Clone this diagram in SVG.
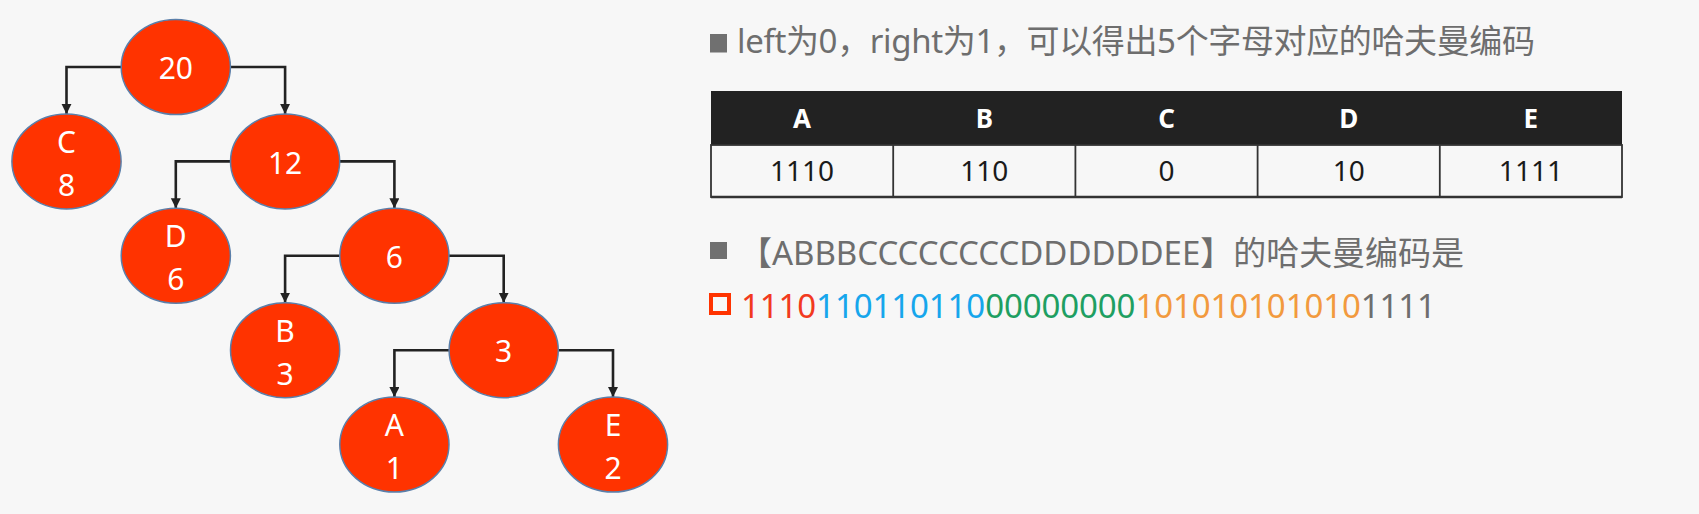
<svg xmlns="http://www.w3.org/2000/svg" width="1699" height="514" viewBox="0 0 1699 514">
<style>
.node ellipse{fill:#FF3300;stroke:#5A7FAA;stroke-width:1.5}
.node text{fill:#FFFFFF;font-family:"Noto Sans","Liberation Sans",sans-serif;font-size:30px;text-anchor:middle}
.conn path{fill:none;stroke:#222222;stroke-width:2.6;marker-end:url(#arr)}
.t{font-family:"Noto Sans","Noto Sans CJK SC",sans-serif;font-size:33px;fill:#6E6E6E}
.th{font-family:"Noto Sans","Liberation Sans",sans-serif;font-size:26px;font-weight:bold;fill:#FFFFFF;text-anchor:middle}
.td{font-family:"Noto Sans","Liberation Sans",sans-serif;font-size:28px;fill:#1A1A1A;text-anchor:middle}
.grid{stroke:#333333;stroke-width:1.8;fill:none}
</style>
<defs>
<marker id="arr" markerUnits="userSpaceOnUse" markerWidth="11" markerHeight="11" refX="10" refY="5" orient="auto">
<path d="M0,0 L10,5 L0,10 Z" fill="#222222"/>
</marker>
</defs>
<rect x="0" y="0" width="1699" height="514" fill="#F7F7F7"/>

<g id="connectors" class="conn">
<path d="M121.2,67 H66.5 V113.9"/>
<path d="M230.4,67 H285.1 V113.9"/>
<path d="M230.5,161.4 H175.8 V208.3"/>
<path d="M339.7,161.4 H394.4 V208.3"/>
<path d="M339.8,255.8 H285.1 V302.7"/>
<path d="M449,255.8 H503.7 V302.7"/>
<path d="M449.1,350.2 H394.4 V397.1"/>
<path d="M558.3,350.2 H613 V397.1"/>
</g>

<g id="n20" class="node"><ellipse cx="175.8" cy="67" rx="54.6" ry="47.5"/><text x="175.8" y="79">20</text></g>
<g id="nC" class="node"><ellipse cx="66.5" cy="161.4" rx="54.6" ry="47.5"/><text x="66.5" y="153">C</text><text x="66.5" y="196">8</text></g>
<g id="n12" class="node"><ellipse cx="285.1" cy="161.4" rx="54.6" ry="47.5"/><text x="285.1" y="174">12</text></g>
<g id="nD" class="node"><ellipse cx="175.8" cy="255.8" rx="54.6" ry="47.5"/><text x="175.8" y="247">D</text><text x="175.8" y="290">6</text></g>
<g id="n6" class="node"><ellipse cx="394.4" cy="255.8" rx="54.6" ry="47.5"/><text x="394.4" y="268">6</text></g>
<g id="nB" class="node"><ellipse cx="285.1" cy="350.2" rx="54.6" ry="47.5"/><text x="285.1" y="342">B</text><text x="285.1" y="385">3</text></g>
<g id="n3" class="node"><ellipse cx="503.7" cy="350.2" rx="54.6" ry="47.5"/><text x="503.7" y="362">3</text></g>
<g id="nA" class="node"><ellipse cx="394.4" cy="444.6" rx="54.6" ry="47.5"/><text x="394.4" y="436">A</text><text x="394.4" y="479">1</text></g>
<g id="nE" class="node"><ellipse cx="613" cy="444.6" rx="54.6" ry="47.5"/><text x="613" y="436">E</text><text x="613" y="479">2</text></g>

<g id="title">
<rect x="710" y="34" width="17" height="18.5" fill="#707070"/>
<text class="t" x="737" y="53" textLength="798" lengthAdjust="spacing">left为0，right为1，可以得出5个字母对应的哈夫曼编码</text>
</g>

<g id="table">
<rect x="711" y="91" width="911" height="54" fill="#222222"/>
<rect x="711" y="145" width="911" height="52" class="grid"/>
<line x1="893.2" y1="145" x2="893.2" y2="197" class="grid"/>
<line x1="1075.4" y1="145" x2="1075.4" y2="197" class="grid"/>
<line x1="1257.6" y1="145" x2="1257.6" y2="197" class="grid"/>
<line x1="1439.8" y1="145" x2="1439.8" y2="197" class="grid"/>
<line x1="711" y1="197" x2="1622" y2="197" stroke="#333333" stroke-width="2.5"/>
<text class="th" x="802.1" y="128">A</text>
<text class="th" x="984.3" y="128">B</text>
<text class="th" x="1166.5" y="128">C</text>
<text class="th" x="1348.7" y="128">D</text>
<text class="th" x="1530.9" y="128">E</text>
<text class="td" x="802.1" y="181">1110</text>
<text class="td" x="984.3" y="181">110</text>
<text class="td" x="1166.5" y="181">0</text>
<text class="td" x="1348.7" y="181">10</text>
<text class="td" x="1530.9" y="181">1111</text>
</g>

<g id="line2">
<rect x="710" y="242" width="17" height="17" fill="#707070"/>
<text class="t" x="739" y="265" textLength="725" lengthAdjust="spacing">【ABBBCCCCCCCCDDDDDDEE】的哈夫曼编码是</text>
</g>

<g id="code">
<rect x="711" y="295" width="18" height="18" fill="none" stroke="#FF3300" stroke-width="4"/>
<text class="t" x="741" y="318" textLength="695" lengthAdjust="spacing"><tspan fill="#F23A1E">1110</tspan><tspan fill="#16A6EC">110110110</tspan><tspan fill="#1E9F62">00000000</tspan><tspan fill="#F29A3E">101010101010</tspan><tspan fill="#6E6E6E">1111</tspan></text>
</g>
</svg>
